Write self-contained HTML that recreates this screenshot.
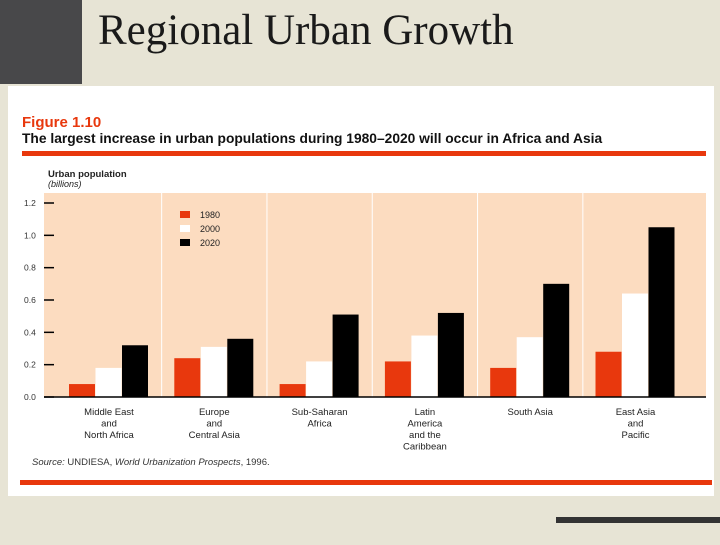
<!DOCTYPE html>
<html><head><meta charset="utf-8"><style>
body{margin:0;width:720px;height:540px;overflow:hidden;background:#e7e4d5;font-family:"Liberation Sans",sans-serif}
</style></head><body>
<svg width="720" height="540" xmlns="http://www.w3.org/2000/svg">
<rect x="0" y="0" width="720" height="540" fill="#e7e4d5"/>
<rect x="0" y="0" width="82" height="84" fill="#48484a"/>
<text x="98" y="44" font-family="Liberation Serif, serif" font-size="43" fill="#1a1a1a">Regional Urban Growth</text>
<rect x="8" y="86" width="706" height="410" fill="#fff"/>
<text x="22" y="127" font-size="15" font-weight="bold" fill="#e8380d">Figure 1.10</text>
<text x="22" y="143" font-size="13.8" font-weight="bold" fill="#111">The largest increase in urban populations during 1980–2020 will occur in Africa and Asia</text>
<rect x="22" y="151" width="684" height="5" fill="#e8380d"/>
<text x="48" y="177" font-size="9.5" font-weight="bold" fill="#222">Urban population</text>
<text x="48" y="187" font-size="9" font-style="italic" fill="#222">(billions)</text>
<g id="chart"></g>
<text x="32" y="465" font-size="9.5" fill="#333"><tspan font-style="italic">Source:</tspan> UNDIESA, <tspan font-style="italic">World Urbanization Prospects</tspan>, 1996.</text>
<rect x="20" y="480" width="692" height="5" fill="#e8380d"/>
<rect x="556" y="517" width="164" height="6" fill="#333"/>
</svg>
<script>
const categories=[["Middle East","and","North Africa"],["Europe","and","Central Asia"],["Sub-Saharan","Africa"],["Latin","America","and the","Caribbean"],["South Asia"],["East Asia","and","Pacific"]];
const series=["1980","2000","2020"];
const v1980=[0.08,0.24,0.08,0.22,0.18,0.28];
const v2000=[0.18,0.31,0.22,0.38,0.37,0.64];
const v2020=[0.32,0.36,0.51,0.52,0.70,1.05];
const yTicks=[0,0.2,0.4,0.6,0.8,1.0,1.2];
const yTickLabels=["0.0","0.2","0.4","0.6","0.8","1.0","1.2"];
const NS="http://www.w3.org/2000/svg";
const g=document.getElementById('chart');
const x0=44,x1=706,yTop=193,yBase=397,yMax=1.2,y12=203;
const y=v=>yBase-(v/yMax)*(yBase-y12);
const groupW=105.3,firstCenter=109;
const gx=i=>firstCenter+i*groupW;
const colors=["#e8380d","#ffffff","#000000"];
function el(t,a){const e=document.createElementNS(NS,t);for(const k in a)e.setAttribute(k,a[k]);g.appendChild(e);return e;}
let e=el('rect',{x:x0,y:yTop,width:x1-x0,height:yBase-yTop,fill:"#fcdcc0"});


for(let i=1;i<categories.length;i++){
  const dx=(gx(i-1)+gx(i))/2;
  e=el('line',{x1:dx,x2:dx,y1:yTop,y2:yBase,stroke:"#fff","stroke-width":1});
  
  
}
const vals=[v1980,v2000,v2020];
categories.forEach((c,i)=>{
  vals.forEach((arr,s)=>{
    const bx=gx(i)-40+s*26.5;
    const r=el('rect',{x:bx,y:y(arr[i]),width:26,height:yBase-y(arr[i]),fill:colors[s]});
    
    
  });
  c.forEach((line,j)=>{
    const t=el('text',{x:gx(i),y:415+j*11.5,"font-size":9.5,"text-anchor":"middle",fill:"#222"});
    t.textContent=line;
    
    
  });
});
e=el('line',{x1:x0,x2:x1,y1:yBase,y2:yBase,stroke:"#000","stroke-width":1.5});


yTicks.forEach((v,i)=>{
  const tk=el('line',{x1:44,x2:54,y1:y(v),y2:y(v),stroke:"#000","stroke-width":1.5});
  
  
  const t=el('text',{x:24,y:y(v)+3,"font-size":8.5,fill:"#333"});
  t.textContent=yTickLabels[i];
  
  
});
series.forEach((s,i)=>{
  const r=el('rect',{x:180,y:211+i*14,width:10,height:7,fill:colors[i]});
  
  
  const t=el('text',{x:200,y:218+i*14,"font-size":9,fill:"#222"});
  t.textContent=s;
  
  
});
</script>
</body></html>
